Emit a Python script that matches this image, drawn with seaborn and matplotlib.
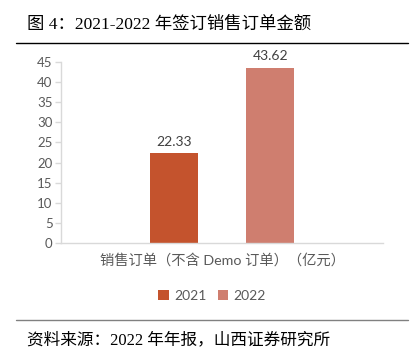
import matplotlib
matplotlib.use("Agg")
import matplotlib.pyplot as plt
from matplotlib.lines import Line2D
import seaborn as sns
import pandas as pd

categories = ["销售订单（不含 Demo 订单）（亿元）"]
years = ["2021", "2022"]
values = [22.33, 43.62]
colors = ["#C4532D", "#CF7E6F"]
yticks = [0, 5, 10, 15, 20, 25, 30, 35, 40, 45]

sns.set_style("white")
plt.rcParams["font.family"] = ["Lato", "Noto Sans CJK SC", "DejaVu Sans"]

df = pd.DataFrame({"cat": categories * len(years), "year": years, "value": values})

W, H = 419, 358
fig = plt.figure(figsize=(W / 100, H / 100), dpi=100)
ax = fig.add_axes([61 / W, (H - 243) / H, 322 / W, 181 / H])

sns.barplot(data=df, x="cat", y="value", hue="year", palette=colors, saturation=1,
            width=0.6, gap=0.5, linewidth=0, ax=ax, legend=True)

ax.set_ylim(0, 45)
ax.set_yticks(yticks)
ax.set_xlim(-0.5, 0.5)
ax.set_xlabel("")
ax.set_ylabel("")
for s in ["top", "right"]:
    ax.spines[s].set_visible(False)
for s in ["left", "bottom"]:
    ax.spines[s].set_color("#D9D9D9")
    ax.spines[s].set_linewidth(1)
ax.tick_params(axis="y", length=4, width=1, color="#D9D9D9", labelcolor="#595959",
               labelsize=9.5, pad=2, left=True)
ax.tick_params(axis="x", length=0, labelcolor="#595959", labelsize=10.3, pad=7)

for c in ax.containers:
    ax.bar_label(c, fmt="%.2f", padding=4, color="#404040", fontsize=10)

handles, labels = ax.get_legend_handles_labels()
ax.get_legend().remove()
fig.legend(handles, labels, loc="center", bbox_to_anchor=(212 / W, 1 - 296 / H),
           ncol=2, frameon=False, handlelength=0.75, handleheight=0.75,
           handletextpad=0.4, columnspacing=0.8, fontsize=10, labelcolor="#595959")

serif = ["Liberation Serif", "Noto Sans CJK SC"]
fig.text(27 / W, 1 - 25 / H, "图 4：2021-2022 年签订销售订单金额", family=serif,
         fontsize=12.5, va="center", ha="left", color="#000000")
fig.add_artist(Line2D([16 / W, 408 / W], [1 - 43 / H] * 2, color="#000000", lw=1))
fig.add_artist(Line2D([16 / W, 408 / W], [1 - 320 / H] * 2, color="#808080", lw=1))
fig.text(27 / W, 1 - 340 / H, "资料来源：2022 年年报，山西证券研究所", family=serif,
         fontsize=12, va="center", ha="left", color="#000000")

fig.savefig("out.png", dpi=100)
